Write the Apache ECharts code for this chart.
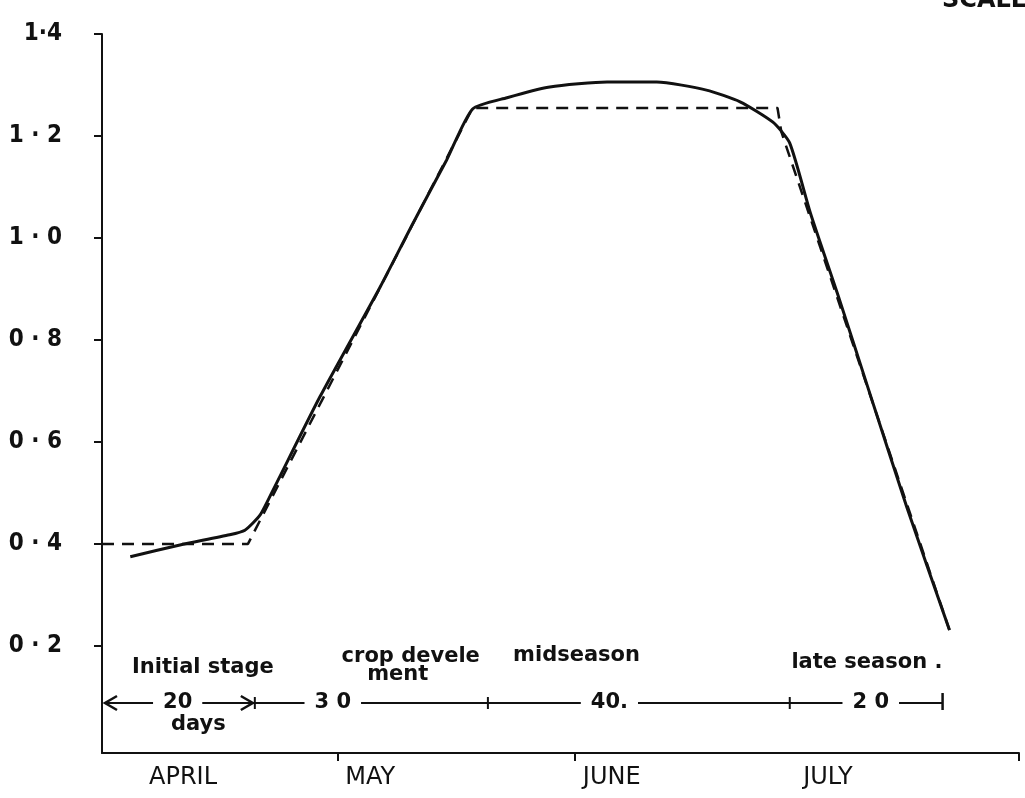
<!DOCTYPE html>
<html><head><meta charset="utf-8">
<script src="https://cdn.jsdelivr.net/npm/echarts@6/dist/echarts.min.js"></script>
<style>html,body{margin:0;padding:0;background:#fff}#c{width:1025px;height:798px}</style>
</head><body><div id="c"></div>
<script>
// Crop coefficient curve (solid, smooth) — day of season vs Kc
const kcCurveDays   = [3.7, 10.2, 16.7, 18.7, 20.7, 22.4, 28.5, 36.4, 40.7, 45.1, 48.5, 53.0, 58.6, 66.1, 72.6, 79.1, 83.5, 87.8, 90.0, 92.7, 96.4, 100.2, 105.3, 110.9];
const kcCurveValues = [0.375, 0.398, 0.418, 0.427, 0.457, 0.506, 0.688, 0.904, 1.029, 1.153, 1.253, 1.275, 1.296, 1.306, 1.306, 1.290, 1.267, 1.227, 1.186, 1.049, 0.884, 0.708, 0.473, 0.231];
// Stepwise (dashed) Kc construction
const kcStepDays   = [0, 19.1, 48.5, 88.4, 88.9, 110.9];
const kcStepValues = [0.40, 0.40, 1.255, 1.255, 1.208, 0.231];

const yTickValues = [0.2, 0.4, 0.6, 0.8, 1.0, 1.2, 1.4];
const yTickLabels = ['0 · 2', '0 · 4', '0 · 6', '0 · 8', '1 · 0', '1 · 2', '1·4'];

const monthLabels    = ['APRIL', 'MAY', 'JUNE', 'JULY'];
const monthLabelDays = [10.6, 35.1, 66.7, 95.0];
const monthTickDays  = [30.9, 61.9, 120];

const stageBoundaryDays = [0, 20, 50.5, 90, 110];
const stageBarKc = 0.088;

const annotationTexts = ['Initial stage', 'crop devele', 'ment', 'midseason', 'late season .', '20', '3 0', '40.', '2 0', 'days'];
const annotationDays  = [13.2, 40.4, 38.7, 62.1, 100.1, 9.9, 30.2, 66.4, 100.6, 12.6];
const annotationKc    = [0.157, 0.180, 0.143, 0.182, 0.167, 0.088, 0.088, 0.088, 0.088, 0.045];

const FONT = '"DejaVu Sans Condensed", "DejaVu Sans", sans-serif';
const FONT_WIDE = '"DejaVu Sans", sans-serif';
const INK = '#111';

const chart = echarts.init(document.getElementById('c'), null, {renderer: 'canvas'});

const option = {
  backgroundColor: '#fff',
  animation: false,
  grid: {left: 102, right: 6, top: 34, bottom: 45, containLabel: false, outerBoundsMode: 'none'},
  xAxis: {
    type: 'value', min: 0, max: 120,
    axisLine: {show: true, onZero: false, lineStyle: {color: INK, width: 2}},
    axisTick: {show: true, customValues: monthTickDays, length: 8, lineStyle: {color: INK, width: 2}},
    axisLabel: {
      show: true, customValues: monthLabelDays, margin: 13,
      formatter: v => monthLabels[monthLabelDays.indexOf(v)] || '',
      color: INK, fontFamily: FONT_WIDE, fontSize: 24, fontWeight: 'normal'
    },
    splitLine: {show: false}
  },
  yAxis: {
    type: 'value', min: -0.01, max: 1.4,
    axisLine: {show: true, lineStyle: {color: INK, width: 2}},
    axisTick: {show: true, customValues: yTickValues, length: 8, lineStyle: {color: INK, width: 2}},
    axisLabel: {
      show: true, customValues: yTickValues, margin: 40,
      formatter: v => yTickLabels[yTickValues.indexOf(v)] || '',
      color: INK, fontFamily: FONT, fontSize: 24, fontWeight: 'bold'
    },
    splitLine: {show: false}
  },
  graphic: [{
    type: 'text', left: 942, top: -11,
    style: {text: 'SCALE', font: 'bold 24px ' + FONT_WIDE, fill: INK}
  }],
  series: [
    {
      type: 'line', name: 'stepwise', smooth: false, showSymbol: false,
      data: kcStepDays.map((d, i) => [d, kcStepValues[i]]),
      lineStyle: {color: INK, width: 2.5, type: [12, 8]}, z: 3
    },
    {
      type: 'line', name: 'curve', smooth: 0.2, showSymbol: false,
      data: kcCurveDays.map((d, i) => [d, kcCurveValues[i]]),
      lineStyle: {color: INK, width: 3}, z: 4
    },
    {
      type: 'custom', name: 'stages', clip: false, z: 5,
      data: [[stageBoundaryDays[0], stageBarKc]],
      renderItem: (params, api) => {
        const pts = stageBoundaryDays.map(d => api.coord([d, stageBarKc]));
        const y = pts[0][1];
        const st = {stroke: INK, lineWidth: 2, fill: null};
        const ch = [];
        ch.push({type: 'line', shape: {x1: pts[0][0] + 2, y1: y, x2: pts[pts.length - 1][0], y2: y}, style: st});
        const x0 = pts[0][0] + 3;
        ch.push({type: 'polyline', shape: {points: [[x0 + 12, y - 7], [x0, y], [x0 + 12, y + 7]]}, style: {stroke: INK, lineWidth: 2.5, fill: null}});
        const x1 = pts[1][0] - 2;
        ch.push({type: 'polyline', shape: {points: [[x1 - 12, y - 7], [x1, y], [x1 - 12, y + 7]]}, style: {stroke: INK, lineWidth: 2.5, fill: null}});
        for (let i = 1; i < pts.length - 1; i++) {
          ch.push({type: 'line', shape: {x1: pts[i][0], y1: y - 6, x2: pts[i][0], y2: y + 6}, style: st});
        }
        const xe = pts[pts.length - 1][0];
        ch.push({type: 'line', shape: {x1: xe, y1: y - 10, x2: xe, y2: y + 7}, style: {stroke: INK, lineWidth: 2.5}});
        return {type: 'group', children: ch};
      }
    },
    {
      type: 'custom', name: 'annotations', clip: false, z: 6,
      data: annotationDays.map((d, i) => [d, annotationKc[i], i]),
      encode: {x: 0, y: 1},
      renderItem: (params, api) => {
        const p = api.coord([api.value(0), api.value(1)]);
        const idx = api.value(2);
        const onBar = annotationKc[idx] === stageBarKc;
        const style = {
          text: annotationTexts[idx], font: 'bold 21px ' + FONT_WIDE, fill: INK,
          align: 'center', verticalAlign: 'middle'
        };
        if (onBar) { style.backgroundColor = '#fff'; style.padding = [0, 10]; }
        return {type: 'text', x: p[0], y: p[1], style: style};
      }
    }
  ]
};
chart.setOption(option);
</script>
</body></html>
